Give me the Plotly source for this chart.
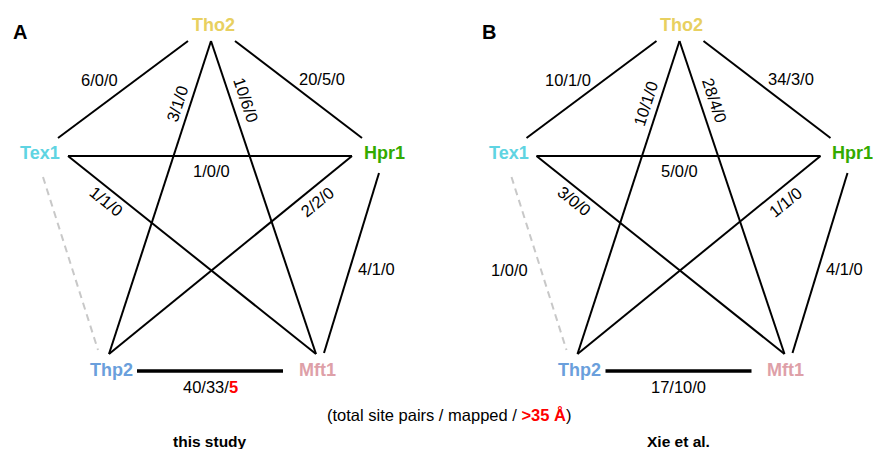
import math
import plotly.graph_objects as go

# ---------------- data ----------------
nodes = ["Tho2", "Tex1", "Hpr1", "Thp2", "Mft1"]
edges = [("Tho2", "Tex1"), ("Tho2", "Hpr1"), ("Tho2", "Thp2"), ("Tho2", "Mft1"),
         ("Tex1", "Hpr1"), ("Tex1", "Mft1"), ("Hpr1", "Thp2"), ("Hpr1", "Mft1"),
         ("Thp2", "Mft1"), ("Tex1", "Thp2")]
panels = ["A", "B"]
panel_titles = ["this study", "Xie et al."]
# total site pairs / mapped / >35 Å  (None = no label)
study_total = [6, 20, 3, 10, 1, 1, 2, 4, 40, None]
study_mapped = [0, 5, 1, 6, 0, 1, 2, 1, 33, None]
study_far = [0, 0, 0, 0, 0, 0, 0, 0, 5, None]
xie_total = [10, 34, 10, 28, 5, 3, 1, 4, 17, 1]
xie_mapped = [1, 3, 1, 4, 0, 0, 1, 1, 10, 0]
xie_far = [0, 0, 0, 0, 0, 0, 0, 0, 0, 0]
caption = "(total site pairs / mapped / <span style='color:#ff0000'><b>&gt;35 Å</b></span>)"

# ---------------- layout / styling ----------------
FONT = "Liberation Sans, Arial, sans-serif"
node_color = {"Tho2": "#e8d060", "Tex1": "#5fd4e2", "Hpr1": "#33aa00",
              "Thp2": "#6a9fdc", "Mft1": "#dea0a8"}
node_pos = {"Tho2": (213, 25), "Tex1": (40, 153), "Hpr1": (384, 153),
            "Thp2": (111, 370), "Mft1": (317, 370)}
# endpoints of each connector (panel-local pixel layout)
ports = {
    ("Tho2", "Tex1"): ((188, 41), (58, 138)),
    ("Tho2", "Hpr1"): ((235, 41), (362, 138)),
    ("Tho2", "Thp2"): ((211, 41), (109, 354)),
    ("Tho2", "Mft1"): ((211, 41), (316, 354)),
    ("Tex1", "Hpr1"): ((68, 156), (352, 156)),
    ("Tex1", "Mft1"): ((68, 156), (316, 354)),
    ("Hpr1", "Thp2"): ((352, 156), (109, 354)),
    ("Hpr1", "Mft1"): ((379, 173), (324, 353)),
    ("Thp2", "Mft1"): ((137, 371), (283, 371)),
    ("Tex1", "Thp2"): ((43, 177), (98, 350)),
}
label_pos = {
    ("Tho2", "Tex1"): (99, 80),
    ("Tho2", "Hpr1"): (322, 79),
    ("Tho2", "Thp2"): (177, 104),
    ("Tho2", "Mft1"): (246, 100),
    ("Tex1", "Hpr1"): (211, 171),
    ("Tex1", "Mft1"): (106, 201),
    ("Hpr1", "Thp2"): (317, 202),
    ("Hpr1", "Mft1"): (376, 269),
    ("Thp2", "Mft1"): (210, 387),
    ("Tex1", "Thp2"): (41, 270),
}
rotated = {("Tho2", "Thp2"), ("Tho2", "Mft1"), ("Tex1", "Mft1"), ("Hpr1", "Thp2")}
panel_offset = [0, 468.5]

fig = go.Figure()
annotations = []

series = [(study_total, study_mapped, study_far), (xie_total, xie_mapped, xie_far)]

for p, (tot, mapd, far) in enumerate(series):
    ox = panel_offset[p]
    for i, e in enumerate(edges):
        (x0, y0), (x1, y1) = ports[e]
        dashed = e == ("Tex1", "Thp2")
        thick = e == ("Thp2", "Mft1")
        fig.add_trace(go.Scatter(
            x=[x0 + ox, x1 + ox], y=[y0, y1], mode="lines", hoverinfo="skip",
            showlegend=False,
            line=dict(color="#c8c8c8" if dashed else "#000000",
                      width=3.5 if thick else 2,
                      dash="7px,5px" if dashed else "solid")))
        if tot[i] is None:
            continue
        if far[i] > 0:
            txt = f"{tot[i]}/{mapd[i]}/<span style='color:#ff0000'><b>{far[i]}</b></span>"
        else:
            txt = f"{tot[i]}/{mapd[i]}/{far[i]}"
        ang = 0
        if e in rotated:
            ang = math.degrees(math.atan2(y1 - y0, x1 - x0))
            if ang > 90:
                ang -= 180
            elif ang <= -90:
                ang += 180
        lx, ly = label_pos[e]
        annotations.append(dict(x=lx + ox, y=ly, text=txt, textangle=ang,
                                showarrow=False, xanchor="center", yanchor="middle",
                                font=dict(family=FONT, size=16.5, color="#000000")))
    for n in nodes:
        nx, ny = node_pos[n]
        annotations.append(dict(x=nx + ox, y=ny, text=f"<b>{n}</b>", showarrow=False,
                                xanchor="center", yanchor="middle",
                                font=dict(family=FONT, size=18, color=node_color[n])))
    annotations.append(dict(x=20 + ox, y=32, text=f"<b>{panels[p]}</b>", showarrow=False,
                            xanchor="center", yanchor="middle",
                            font=dict(family=FONT, size=20, color="#000000")))
    annotations.append(dict(x=210 + ox, y=441, text=f"<b>{panel_titles[p]}</b>",
                            showarrow=False, xanchor="center", yanchor="middle",
                            font=dict(family=FONT, size=15.5, color="#000000")))

annotations.append(dict(x=449, y=415, text=caption, showarrow=False,
                        xanchor="center", yanchor="middle",
                        font=dict(family=FONT, size=16.5, color="#000000")))

fig.update_layout(
    width=873, height=449, margin=dict(l=0, r=0, t=0, b=0),
    paper_bgcolor="white", plot_bgcolor="white",
    xaxis=dict(range=[0, 873], visible=False, fixedrange=True),
    yaxis=dict(range=[449, 0], visible=False, fixedrange=True),
    annotations=annotations, showlegend=False,
)
fig.write_html("out.html", config={"displayModeBar": False},
               post_script="document.body.style.margin='0';document.body.style.overflow='hidden';")
